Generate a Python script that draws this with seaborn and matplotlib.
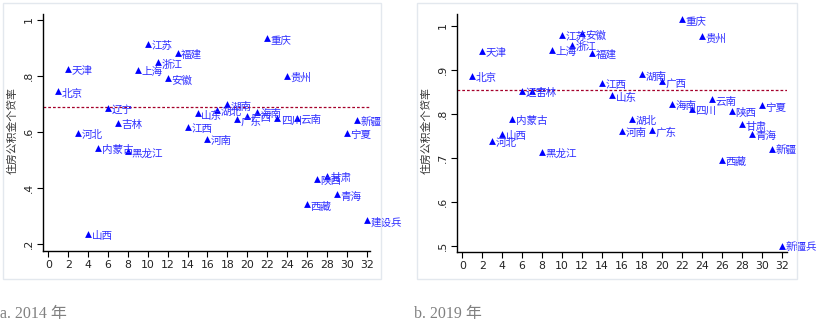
import matplotlib
matplotlib.use("Agg")
import matplotlib.pyplot as plt
import seaborn as sns
import pandas as pd
from matplotlib.patches import Rectangle

provinces_2014 = ["北京", "天津", "河北", "山西", "内蒙古", "辽宁", "吉林", "黑龙江", "上海", "江苏",
                  "浙江", "安徽", "福建", "江西", "山东", "河南", "湖北", "湖南", "广东", "广西",
                  "海南", "重庆", "四川", "贵州", "云南", "西藏", "陕西", "甘肃", "青海", "宁夏",
                  "新疆", "建设兵"]
provinces_2019 = provinces_2014[:-1] + ["新疆兵"]
index = list(range(1, 33))

rate_2014 = [0.745, 0.825, 0.598, 0.237, 0.544, 0.686, 0.633, 0.531, 0.822, 0.915,
             0.848, 0.792, 0.883, 0.617, 0.667, 0.575, 0.679, 0.698, 0.645, 0.658,
             0.671, 0.936, 0.648, 0.800, 0.650, 0.341, 0.433, 0.442, 0.377, 0.598,
             0.641, 0.284]
rate_2019 = [0.886, 0.943, 0.739, 0.755, 0.788, 0.852, 0.852, 0.714, 0.945, 0.980,
             0.956, 0.983, 0.939, 0.871, 0.842, 0.761, 0.788, 0.890, 0.763, 0.874,
             0.822, 1.016, 0.812, 0.977, 0.833, 0.696, 0.806, 0.776, 0.754, 0.819,
             0.720, 0.500]
mean_2014 = 0.688
mean_2019 = 0.855

yticks_2014 = [0.2, 0.4, 0.6, 0.8, 1.0]
ytick_labels_2014 = [".2", ".4", ".6", ".8", "1"]
yticks_2019 = [0.5, 0.6, 0.7, 0.8, 0.9, 1.0]
ytick_labels_2019 = [".5", ".6", ".7", ".8", ".9", "1"]
xticks = list(range(0, 33, 2))
ylabel = "住房公积金个贷率"
captions = ["a. 2014 年", "b. 2019 年"]

sns.set_theme(style="white")
plt.rcParams['font.family'] = ['Noto Sans CJK SC', 'DejaVu Sans']

W, H = 818, 330
fig = plt.figure(figsize=(W / 100, H / 100), dpi=100)

def fx(px):
    return px / W

def fy(py):
    return 1 - py / H

# panel borders
for (x0, y0, x1, y1) in [(3, 3, 381, 279), (417, 3, 797, 279)]:
    fig.patches.append(Rectangle((fx(x0), fy(y1)), fx(x1 - x0), (y1 - y0) / H,
                                 transform=fig.transFigure, fill=False,
                                 edgecolor="#e3e8ee", linewidth=1.0))

panels = [
    dict(box=[42.7, 14, 370, 251], xlim=(-0.56, 32.33), ylim=(0.175, 1.021),
         vals=rate_2014, labels=provinces_2014, mean=mean_2014,
         yt=yticks_2014, ytl=ytick_labels_2014, ylab_x=12, cap_x=0),
    dict(box=[457.3, 14, 786.7, 252.3], xlim=(-0.5, 32.5), ylim=(0.485, 1.027),
         vals=rate_2019, labels=provinces_2019, mean=mean_2019,
         yt=yticks_2019, ytl=ytick_labels_2019, ylab_x=426, cap_x=414),
]

for i, p in enumerate(panels):
    l, t, r, b = p["box"]
    ax = fig.add_axes([fx(l), fy(b), fx(r - l), (b - t) / H])
    df = pd.DataFrame({"idx": index, "rate": p["vals"], "name": p["labels"]})
    sns.scatterplot(data=df, x="idx", y="rate", marker="^", color="blue",
                    s=24, linewidth=0, ax=ax, zorder=3)
    ax.axhline(p["mean"], color="#a5002a", linestyle=(0, (2.2, 1.6)), linewidth=0.9, zorder=2)
    for xv, yv, nm in zip(df["idx"], df["rate"], df["name"]):
        ax.annotate(nm, (xv, yv), xytext=(2.6, -1.6), textcoords="offset points",
                    ha="left", va="center", fontsize=7.6, color="#2f2fff", zorder=4)
    ax.set_xlim(*p["xlim"])
    ax.set_ylim(*p["ylim"])
    ax.set_xticks(xticks)
    ax.set_xticklabels([str(v) for v in xticks], fontsize=7.8, color="#222222",
                       family=['DejaVu Sans'])
    ax.set_yticks(p["yt"])
    ax.set_yticklabels(p["ytl"], fontsize=7.8, color="#222222", rotation=90,
                       va="center", family=['DejaVu Sans'])
    ax.set_xlabel("")
    ax.set_ylabel("")
    for s in ["top", "right"]:
        ax.spines[s].set_visible(False)
    for s in ["left", "bottom"]:
        ax.spines[s].set_color("black")
        ax.spines[s].set_linewidth(1.0)
    ax.tick_params(axis="both", which="major", direction="out", length=4,
                   width=0.8, color="black", pad=2.5, bottom=True, left=True)
    ax.patch.set_alpha(0)
    fig.text(fx(p["ylab_x"]), fy(130), ylabel, rotation=90, ha="center", va="center",
             fontsize=7.8, color="#333333")
    fig.text(fx(p["cap_x"]), fy(314), captions[i], ha="left", va="center",
             fontsize=11.5, color="#808080",
             family=['Liberation Serif', 'Noto Sans CJK SC'])

fig.savefig("out.png", dpi=100)
